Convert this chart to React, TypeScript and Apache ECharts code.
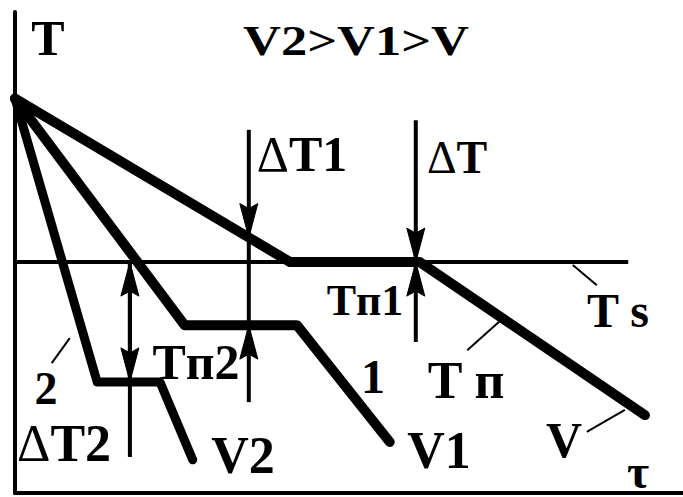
import React, { useEffect, useRef } from "react";
import * as echarts from "echarts";

// Schematic data (τ, T in arbitrary units: τ 0..100, T 0..100)
const tauV = [0, 41.2, 60.6, 94.3];
const tempV = [82, 48, 48, 16.2];
const tauV1 = [0, 25.4, 42.2, 56.1];
const tempV1 = [82, 34.9, 34.9, 10.6];
const tauV2 = [0, 12.3, 21.7, 26.6];
const tempV2 = [82, 23.1, 23.1, 6.9];
const tauTs = [0, 91.8];
const tempTs = [48, 48];

// Arrows: τ position, start T, end T, arrowhead at end (1) or not (0)
const arrowTau = [35.0, 35.0, 35.0, 60.0, 60.0, 17.2, 17.2, 17.2];
const arrowFrom = [75.5, 53.1, 18.9, 77.5, 31.4, 48, 23.1, 7.5];
const arrowTo = [53.1, 34.9, 34.9, 48, 48, 23.1, 48, 23.1];
const arrowHead = [1, 0, 1, 1, 1, 1, 1, 0];

// Leader lines for labels: [τ1, T1, τ2, T2]
const leaderTau1 = [5.5, 83.5, 67.7, 85.6];
const leaderT1 = [27.0, 47.4, 29.7, 12.7];
const leaderTau2 = [8.2, 87.1, 73.1, 91.3];
const leaderT2 = [32.2, 43.2, 36.4, 17.3];

const zip = (a: number[], b: number[]) => a.map((v, i) => [v, b[i]]);

const SERIF = "Liberation Serif";

function label(text: string, x: number, y: number, size: number, extra: any = {}) {
  return {
    type: "text",
    x,
    y,
    ...extra,
    style: {
      text,
      fontFamily: SERIF,
      fontWeight: "bold",
      fontSize: size,
      fill: "#000",
      align: "center",
      verticalAlign: "middle",
    },
  };
}

function deltaLabel(rest: string, x: number, y: number, size: number) {
  return {
    type: "text",
    x,
    y,
    style: {
      text: `{a|Δ}{b|${rest}}`,
      fill: "#000",
      align: "center",
      verticalAlign: "middle",
      rich: {
        a: { fontFamily: SERIF, fontWeight: "normal", fontSize: size, fill: "#000" },
        b: { fontFamily: SERIF, fontWeight: "bold", fontSize: size, fill: "#000" },
      },
    },
  };
}

export default function App() {
  const ref = useRef<HTMLDivElement>(null);
  useEffect(() => {
    if (!ref.current) return;
    const chart = echarts.init(ref.current, null, { renderer: "svg" });
    const thick = (w: number) => ({ color: "#000", width: w, cap: "round", join: "round" });
    chart.setOption({
      animation: false,
      backgroundColor: "#fff",
      grid: { left: 15, right: 0, top: 12, bottom: 4 },
      xAxis: {
        type: "value",
        min: 0,
        max: 100,
        axisLine: { show: true, lineStyle: { color: "#000", width: 4 } },
        axisTick: { show: false },
        axisLabel: { show: false },
        splitLine: { show: false },
      },
      yAxis: {
        type: "value",
        min: 0,
        max: 100,
        axisLine: { show: true, lineStyle: { color: "#000", width: 4 } },
        axisTick: { show: false },
        axisLabel: { show: false },
        splitLine: { show: false },
      },
      series: [
        {
          type: "line",
          name: "Ts",
          data: zip(tauTs, tempTs),
          symbol: "none",
          lineStyle: { color: "#000", width: 4 },
          z: 2,
        },
        {
          type: "line",
          name: "V",
          data: zip(tauV, tempV),
          symbol: "none",
          lineStyle: thick(10),
          z: 3,
        },
        {
          type: "line",
          name: "V1",
          data: zip(tauV1, tempV1),
          symbol: "none",
          lineStyle: thick(10),
          z: 3,
        },
        {
          type: "line",
          name: "V2",
          data: zip(tauV2, tempV2),
          symbol: "none",
          lineStyle: thick(9),
          z: 3,
        },
        {
          type: "custom",
          name: "arrows",
          clip: false,
          z: 4,
          encode: { x: 0, y: [1, 2] },
          data: arrowTau.map((t, i) => [t, arrowFrom[i], arrowTo[i], arrowHead[i]]),
          renderItem: (params: any, api: any) => {
            const x = api.value(0);
            const p1 = api.coord([x, api.value(1)]);
            const p2 = api.coord([x, api.value(2)]);
            const children: any[] = [
              {
                type: "line",
                shape: { x1: p1[0], y1: p1[1], x2: p2[0], y2: p2[1] },
                style: { stroke: "#000", lineWidth: 4 },
              },
            ];
            if (api.value(3) === 1) {
              const dir = p2[1] > p1[1] ? 1 : -1;
              const tx = p2[0];
              const ty = p2[1];
              children.push({
                type: "polygon",
                shape: {
                  points: [
                    [tx, ty],
                    [tx - 9, ty - dir * 34],
                    [tx, ty - dir * 29],
                    [tx + 9, ty - dir * 34],
                  ],
                },
                style: { fill: "#000", stroke: "#000", lineWidth: 1 },
              });
            }
            return { type: "group", children };
          },
        },
        {
          type: "custom",
          name: "leaders",
          clip: false,
          z: 4,
          encode: { x: [0, 2], y: [1, 3] },
          data: leaderTau1.map((t, i) => [t, leaderT1[i], leaderTau2[i], leaderT2[i]]),
          renderItem: (params: any, api: any) => {
            const a = api.coord([api.value(0), api.value(1)]);
            const b = api.coord([api.value(2), api.value(3)]);
            return {
              type: "line",
              shape: { x1: a[0], y1: a[1], x2: b[0], y2: b[1] },
              style: { stroke: "#000", lineWidth: 2 },
            };
          },
        },
      ],
      graphic: [
        label("T", 48, 38, 50),
        label("V2>V1>V", 356, 41, 42, { scaleX: 1.25 }),
        deltaLabel("T1", 302, 154, 50),
        deltaLabel("T", 457, 157, 46),
        label("Tп1", 365, 300, 44),
        label("1", 373, 376, 48),
        label("T п", 466, 380, 52),
        label("2", 46, 388, 46),
        deltaLabel("T2", 64, 443, 52),
        label("Tп2", 196, 362, 50),
        label("V2", 243, 455, 52),
        label("V1", 439, 450, 52),
        label("V", 564, 440, 50),
        label("T s", 618, 310, 48),
        label("τ", 638, 471, 48),
      ],
    });
    return () => chart.dispose();
  }, []);
  return (
    <div
      ref={ref}
      style={{ position: "absolute", left: 0, top: 0, width: 683, height: 497, background: "#fff" }}
    />
  );
}
